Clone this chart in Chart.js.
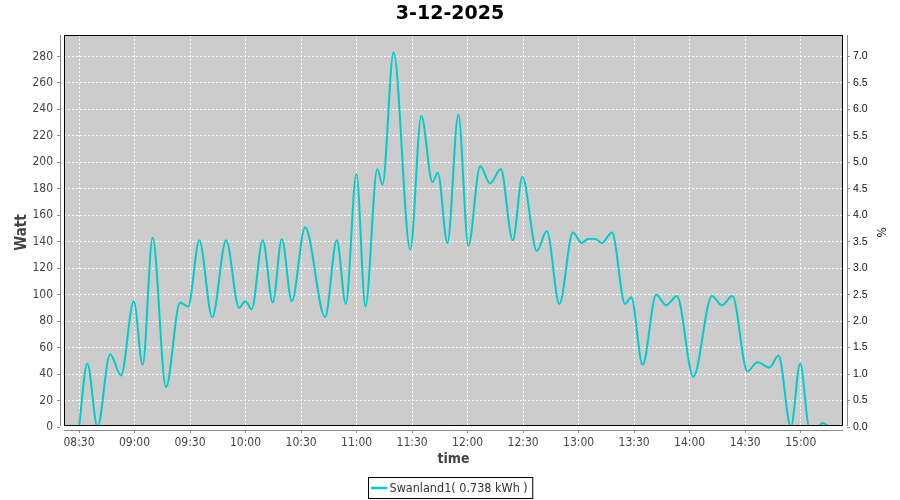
<!DOCTYPE html>
<html>
<head>
<meta charset="utf-8">
<script src="https://cdn.jsdelivr.net/npm/chart.js@4/dist/chart.umd.min.js"></script>
<style>
html,body{margin:0;padding:0;background:#ffffff;}
#wrap{width:900px;height:500px;}
</style>
</head>
<body>
<div id="wrap"><canvas id="c" width="900" height="500"></canvas></div>
<script>
// ---------- data ----------
const chartTitle = "3-12-2025";
const seriesLabel = "Swanland1( 0.738 kWh )";
const times = [
  "08:30:00","08:34:30","08:40:00","08:46:48","08:52:42","08:59:36","09:04:24","09:09:48",
  "09:17:00","09:24:36","09:29:00","09:35:00","09:42:00","09:49:30","09:56:30","09:59:54",
  "10:03:18","10:09:18","10:14:42","10:19:36","10:25:00","10:32:12","10:43:00","10:49:18",
  "10:54:12","10:59:54","11:04:48","11:11:12","11:14:00","11:20:00","11:29:00","11:35:00",
  "11:41:00","11:43:54","11:49:06","11:55:00","12:00:24","12:06:48","12:12:12","12:17:54",
  "12:24:24","12:29:36","12:37:24","12:42:48","12:49:36","12:56:54","13:01:42","13:05:00",
  "13:09:00","13:12:30","13:18:00","13:25:06","13:28:24","13:34:36","13:41:54","13:47:18",
  "13:53:06","14:02:00","14:12:00","14:17:24","14:23:06","14:31:12","14:36:36","14:43:06",
  "14:48:00","14:54:42","14:59:42","15:04:42","15:09:00","15:12:00","15:15:36"
];
const watts = [
  0,48,0,55,39,95,47,143,
  30,94,91,141,83,141,90,95,
  89,141,94,142,95,151,83,141,
  93,191,91,195,183,283,134,235,
  185,192,139,236,137,197,184,195,
  141,189,133,148,93,147,139,142,
  142,139,147,93,98,47,100,92,
  99,38,99,92,99,42,49,45,
  54,0,48,0,0,3,0
];
const xTickLabels = ["08:30","09:00","09:30","10:00","10:30","11:00","11:30","12:00","12:30","13:00","13:30","14:00","14:30","15:00"];
const wattTicks = [0,20,40,60,80,100,120,140,160,180,200,220,240,260,280];
const pctTicks = [0,0.5,1.0,1.5,2.0,2.5,3.0,3.5,4.0,4.5,5.0,5.5,6.0,6.5,7.0];

// ---------- helpers ----------
function toMin(s){const p=s.split(':').map(Number);return p[0]*60+p[1]+(p[2]||0)/60;}
const points = times.map((t,i)=>({x:toMin(t), y:watts[i]}));
const xTickVals = xTickLabels.map(toMin);

const FONT = "'DejaVu Sans Condensed','DejaVu Sans',sans-serif";
const LINE = '#00cccc';
const AXIS = '#888888';

// scale ranges (chart area spans axis lines: x 60..847, y 35..430)
const X_MIN = 499.73, X_MAX = 925.02;
const W_PER_PX = 1/1.3236;
const Y_MIN = -3*W_PER_PX, Y_MAX = 392*W_PER_PX;
const PCT = 40; // 1 % = 40 W on this chart

// plot frame (data area) inset by 4px from the axis lines
const framePlugin = {
  id:'frame',
  beforeDraw(chart){
    const {ctx, chartArea:a} = chart;
    ctx.save();
    ctx.fillStyle='#ffffff';
    ctx.fillRect(0,0,chart.width,chart.height);
    ctx.fillStyle='#cccccc';
    ctx.fillRect(a.left+4, a.top, a.right-a.left-8, a.bottom-a.top-4);
    ctx.restore();
  },
  afterDatasetsDraw(chart){
    const {ctx, chartArea:a} = chart;
    ctx.save();
    ctx.strokeStyle='#000000';
    ctx.lineWidth=1;
    ctx.strokeRect(a.left+4.5, a.top+0.5, a.right-a.left-9, a.bottom-a.top-5);
    ctx.strokeStyle=AXIS;
    ctx.beginPath();
    ctx.moveTo(a.left+0.5, a.top); ctx.lineTo(a.left+0.5, a.bottom-4);
    ctx.moveTo(a.left+4, a.bottom+0.5); ctx.lineTo(a.right-4, a.bottom+0.5);
    ctx.moveTo(a.right+0.5, a.top); ctx.lineTo(a.right+0.5, a.bottom-4);
    ctx.stroke();
    // legend
    const ds = chart.data.datasets[0];
    ctx.font = "12.5px " + FONT;
    const tw = ctx.measureText(ds.label).width;
    const boxW = tw + 26, boxH = 21;
    const bx = Math.round(450 - boxW/2) + 0.5, by = 477.5;
    ctx.strokeStyle='#000000';
    ctx.strokeRect(bx, by, boxW, boxH);
    ctx.strokeStyle=ds.borderColor; ctx.lineWidth=2.5;
    ctx.beginPath(); ctx.moveTo(bx+2.5, by+10.5); ctx.lineTo(bx+18.5, by+10.5); ctx.stroke();
    ctx.fillStyle='#333333'; ctx.textBaseline='middle'; ctx.textAlign='left';
    ctx.fillText(ds.label, bx+21, by+11);
    ctx.restore();
  }
};

const gridCommon = {
  color:'#ffffff', lineWidth:1,
  tickColor:AXIS, tickWidth:1, tickLength:3, tickBorderDash:[]
};
const borderCommon = {display:false, dash:[2,2]};

new Chart(document.getElementById('c'), {
  type:'line',
  data:{ datasets:[{
    label:seriesLabel, data:points, yAxisID:'y',
    borderColor:LINE, backgroundColor:LINE, borderWidth:2,
    pointRadius:0, fill:false, cubicInterpolationMode:'monotone',
    clip:{left:-4, right:-4, top:0, bottom:-4}
  }]},
  options:{
    responsive:false, animation:false, devicePixelRatio:1,
    layout:{padding:0},
    plugins:{
      legend:{display:false},
      tooltip:{enabled:false},
      title:{display:true, text:chartTitle, color:'#000000',
        font:{family:"'DejaVu Sans',sans-serif", size:19, weight:'bold', lineHeight:'24px'},
        padding:{top:2,bottom:9}}
    },
    scales:{
      x:{ type:'linear', position:'bottom', min:X_MIN, max:X_MAX,
        afterBuildTicks(s){ s.ticks = xTickVals.map(v=>({value:v})); },
        afterFit(s){ s.height = 70; },
        grid:{...gridCommon},
        border:{...borderCommon},
        ticks:{ autoSkip:false, maxRotation:0, padding:3, color:'#444444',
          font:{family:FONT, size:12},
          callback:(v,i)=>xTickLabels[i] },
        title:{display:true, text:'time', color:'#444444',
          font:{family:FONT, size:14, weight:'bold'}, padding:{top:0,bottom:32}}
      },
      y:{ type:'linear', position:'left', min:Y_MIN, max:Y_MAX,
        afterBuildTicks(s){ s.ticks = wattTicks.map(v=>({value:v})); },
        afterFit(s){ s.width = 60; },
        grid:{...gridCommon},
        border:{...borderCommon},
        ticks:{ autoSkip:false, padding:4, color:'#444444', font:{family:FONT, size:12},
          callback:(v)=>String(v) },
        title:{display:true, text:'Watt', color:'#444444',
          font:{family:FONT, size:15, weight:'bold'}, padding:{top:13,bottom:0}}
      },
      y1:{ type:'linear', position:'right', min:Y_MIN/PCT, max:Y_MAX/PCT,
        afterBuildTicks(s){ s.ticks = pctTicks.map(v=>({value:v})); },
        afterFit(s){ s.width = 53; },
        grid:{...gridCommon, drawOnChartArea:false},
        border:{...borderCommon},
        ticks:{ autoSkip:false, padding:3, color:'#111111',
          font:{family:"'Liberation Sans',Arial,sans-serif", size:10.5},
          callback:(v)=>v.toFixed(1) },
        title:{display:true, text:'%', color:'#222222',
          font:{family:FONT, size:12}, padding:{top:13,bottom:0}}
      }
    }
  },
  plugins:[framePlugin]
});
</script>
</body>
</html>
